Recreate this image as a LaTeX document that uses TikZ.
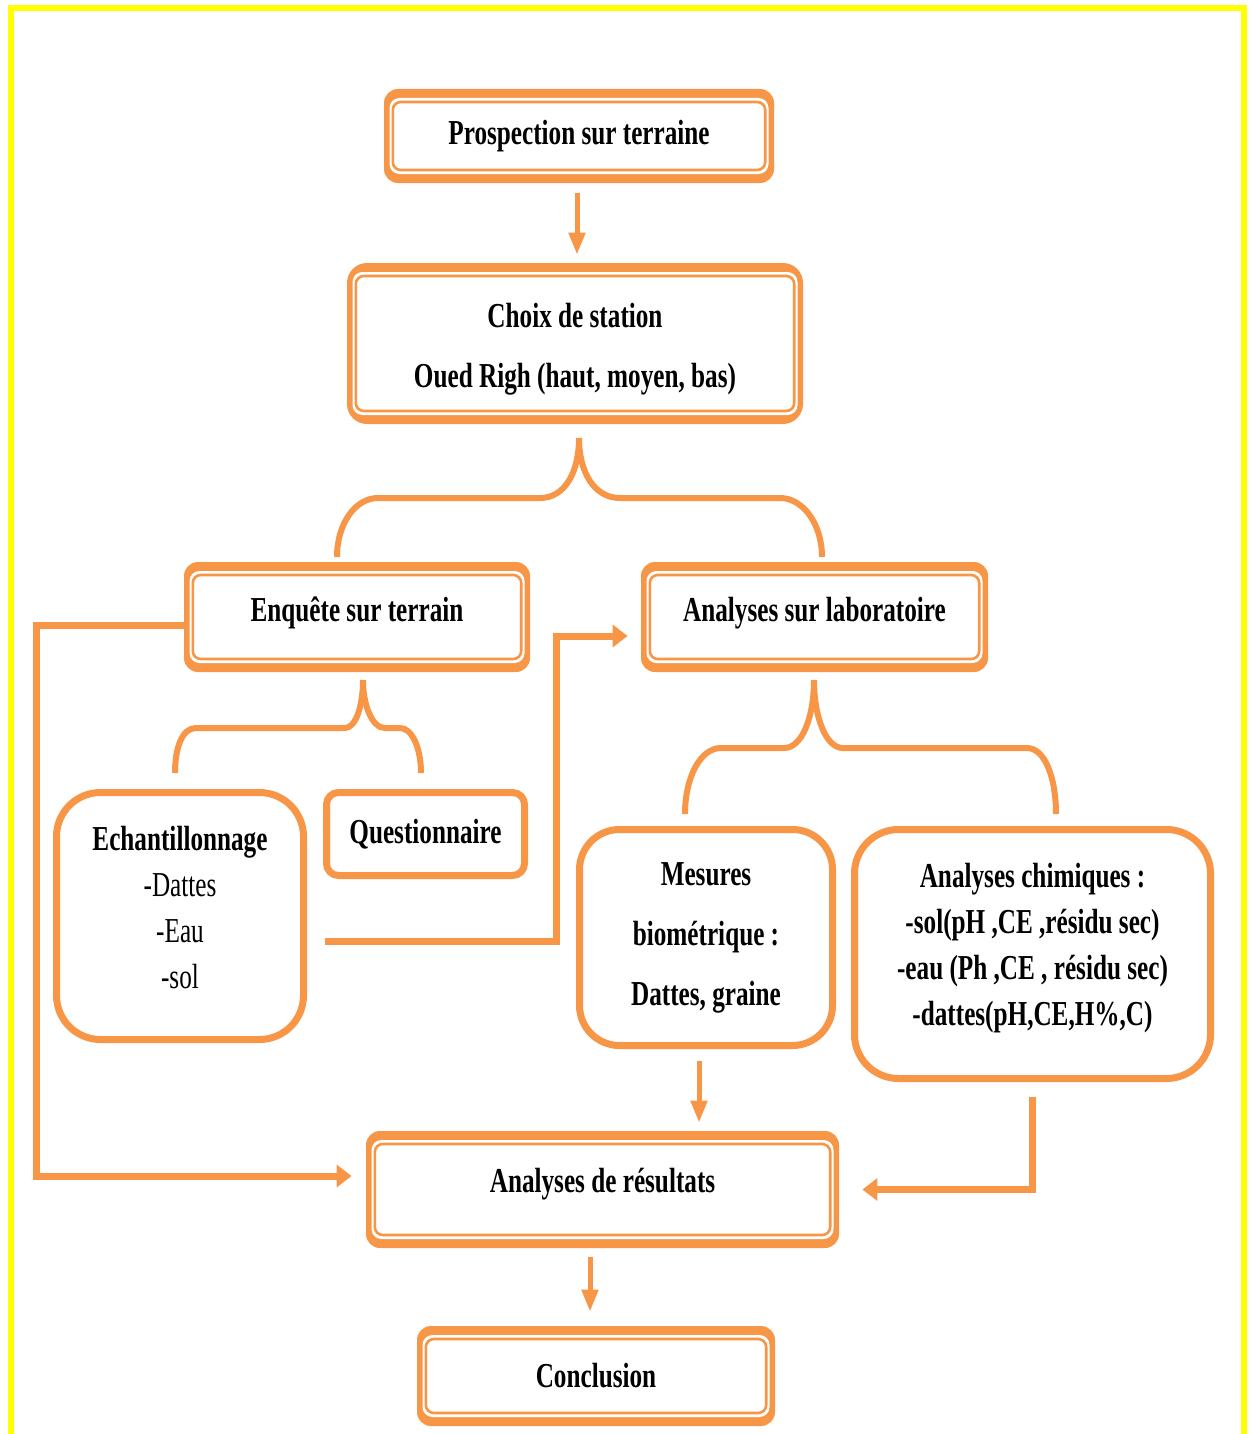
\documentclass[tikz,border=0pt]{standalone}
\usepackage{fontspec}
\setmainfont{Liberation Serif}[FakeStretch=0.72]
\usepackage{tikz}
\usetikzlibrary{positioning,arrows.meta,calc}
\definecolor{peach}{HTML}{F79646}
\definecolor{lemon}{HTML}{FFFF00}
\tikzset{
  every node/.style={font=\fontsize{17.5}{23}\selectfont\bfseries, text=black},
  % --- nodes
  dframe/.style = {fill=peach, rounded corners=7pt, align=center, inner sep=2pt,
                   path picture={
                     \fill[white, rounded corners=5pt]
                       ([shift={(2.75pt,-4.5pt)}]path picture bounding box.north west) rectangle
                       ([shift={(-2.75pt,4.5pt)}]path picture bounding box.south east);
                     \draw[peach, line width=1.3pt, rounded corners=4pt]
                       ([shift={(4.4pt,-6.5pt)}]path picture bounding box.north west) rectangle
                       ([shift={(-4.4pt,6.5pt)}]path picture bounding box.south east);}},
  card/.style   = {draw=peach, line width=3.5pt, rounded corners=20pt, fill=white, align=center,
                   inner sep=2pt},
  % --- edges
  e/.style      = {draw=peach, line width=2.5pt, -{Triangle[length=11pt, width=8pt]}},
  eh/.style     = {draw=peach, line width=3.5pt, -{Triangle[length=7.5pt, width=11pt]}},
  brace/.style  = {draw=peach, line width=3pt},
}
\begin{document}
\begin{tikzpicture}[x=0.5pt,y=-0.5pt]
  \useasboundingbox (0,0) rectangle (1254,1434);
  \draw[lemon, line width=3pt] (11,1450) -- (11,8) -- (1244,8) -- (1244,1450);

  \node[dframe, minimum width=195pt, minimum height=47pt] (prosp) at (579,136) {Prospection sur terraine};
  \node[dframe, rounded corners=10pt, minimum width=228pt, minimum height=80.5pt, text height=48.3pt] (choix)
        at (575,343.5) {Choix de station\\[7pt]Oued Righ (haut, moyen, bas)};
  \node[dframe, minimum width=173pt, minimum height=55pt, text depth=7.8pt] (enquete) at (357,617) {Enquête sur terrain};
  \node[dframe, minimum width=173.5pt, minimum height=55pt, text depth=7.8pt] (labo) at (814.5,617) {Analyses sur laboratoire};

  \node[card, rounded corners=22pt, minimum width=123.5pt, minimum height=123.5pt, text depth=9pt] (echant)
        at (180,916) {Echantillonnage\\\mdseries -Dattes\\\mdseries -Eau\\\mdseries -sol};
  \node[card, rounded corners=6pt, minimum width=99pt, minimum height=41.5pt] (quest)
        at (425.5,834) {Questionnaire};
  \node[card, minimum width=126.5pt, minimum height=108pt] (mesures)
        at (706,937.5) {Mesures\\[7pt]biométrique :\\[7pt]Dattes, graine};
  \node[card, rounded corners=22pt, minimum width=178pt, minimum height=124.5pt, text depth=10pt] (chim)
        at (1032.5,954) {Analyses chimiques :\\-sol(pH ,CE ,résidu sec)\\-eau (Ph ,CE , résidu sec)\\-dattes(pH,CE,H\%,C)};

  \node[dframe, minimum width=236.5pt, minimum height=58.5pt, text depth=8.8pt] (result) at (602.5,1189.5) {Analyses de résultats};
  \node[dframe, minimum width=179pt, minimum height=50pt] (concl) at (596,1376) {Conclusion};

  % braces
  \draw[brace] (337,557) .. controls (337,524) and (355,498) .. (378,498) -- (540,498)
               .. controls (565,498) and (579,472) .. (579,438);
  \draw[brace] (579,438) .. controls (579,472) and (594,498) .. (620,498) -- (780,498)
               .. controls (803,498) and (822,524) .. (822,557);
  \draw[brace] (175,773) .. controls (175,748) and (182,728) .. (196,728) -- (345,728)
               .. controls (356,728) and (363,705) .. (363,680);
  \draw[brace] (363,680) .. controls (363,705) and (372,728) .. (385,728) -- (400,728)
               .. controls (412,728) and (421,748) .. (421,773);
  \draw[brace] (685,814) .. controls (685,778) and (700,748) .. (721,748) -- (784,748)
               .. controls (803,748) and (814,715) .. (814,680);
  \draw[brace] (814,680) .. controls (814,715) and (825,748) .. (843,748) -- (1027,748)
               .. controls (1045,748) and (1056,778) .. (1056,814);

  % arrows
  \draw[e, shorten <=5pt, shorten >=4pt] ([xshift=-1pt]prosp.south) -- ([xshift=-1pt]prosp.south |- choix.north);
  \draw[e, shorten <=5.75pt, shorten >=4pt] ([xshift=-3.5pt]mesures.south) -- ([xshift=-3.5pt]mesures.south |- result.north);
  \draw[e, shorten <=4.5pt, shorten >=7pt] ([xshift=-6.25pt]result.south) -- ([xshift=-6.25pt]result.south |- concl.north);

  \draw[eh, shorten >=7pt] ([yshift=-4pt]enquete.west) -- ++(-147,0) |- ([yshift=6.75pt]result.west);
  \coordinate (qstart) at (325,941);
  \draw[eh, shorten >=6.5pt] (qstart) -- ++(231,0) |- ([yshift=-9.5pt]labo.west);
  \draw[eh, shorten <=7.25pt, shorten >=11.5pt] (chim.south) |- (result.east);
\end{tikzpicture}
\end{document}
